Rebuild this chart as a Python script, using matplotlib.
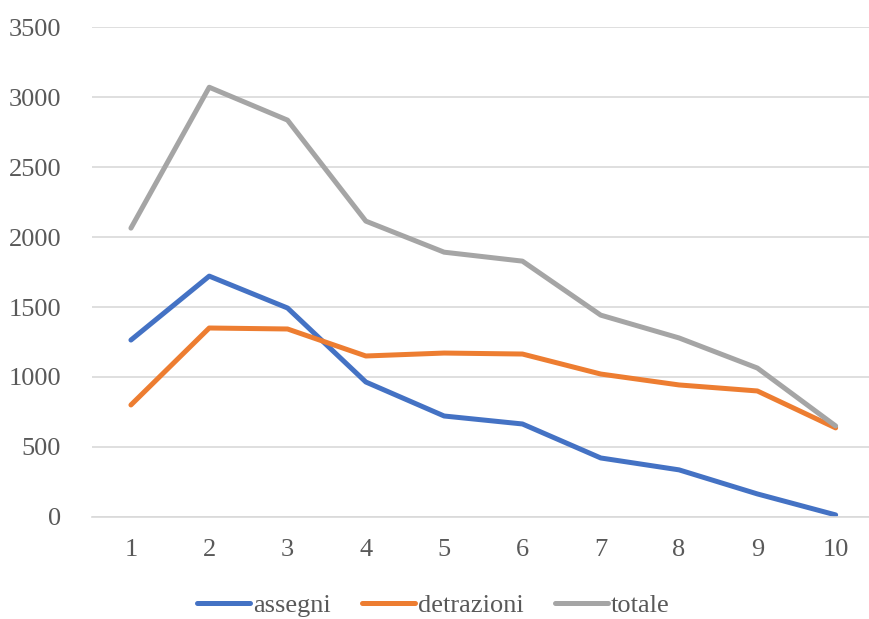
import matplotlib
matplotlib.use("Agg")
import matplotlib.pyplot as plt

categories = ["1", "2", "3", "4", "5", "6", "7", "8", "9", "10"]
assegni = [1264, 1721, 1493, 964, 721, 664, 421, 336, 164, 14]
detrazioni = [800, 1350, 1343, 1150, 1171, 1164, 1021, 943, 900, 636]
totale = [2064, 3071, 2836, 2114, 1892, 1828, 1442, 1279, 1064, 650]
yticks = [0, 500, 1000, 1500, 2000, 2500, 3000, 3500]

plt.rcParams['font.family'] = ['Liberation Serif', 'DejaVu Serif']

fig = plt.figure(figsize=(8.7, 6.19), dpi=100)
ax = fig.add_axes([0.1055, 0.165, 0.9, 0.791])

x = list(range(1, len(categories) + 1))
lw = 3.6
ax.plot(x, assegni, color="#4472C4", lw=lw, label="assegni", solid_capstyle="round")
ax.plot(x, detrazioni, color="#ED7D31", lw=lw, label="detrazioni", solid_capstyle="round")
ax.plot(x, totale, color="#A5A5A5", lw=lw, label="totale", solid_capstyle="round")

ax.set_xlim(0.5, 10.5)
ax.set_ylim(0, 3500)
ax.set_yticks(yticks)
ax.set_xticks(x)
ax.set_xticklabels(categories)
ax.yaxis.grid(True, color="#D9D9D9", lw=1.2)
ax.set_axisbelow(True)
for s in ["top", "right", "left"]:
    ax.spines[s].set_visible(False)
ax.spines["bottom"].set_color("#D9D9D9")
ax.spines["bottom"].set_linewidth(1.2)
ax.tick_params(axis="both", length=0, labelsize=19, labelcolor="#595959")
ax.tick_params(axis="x", pad=16)
ax.tick_params(axis="y", pad=22)

leg = fig.legend(loc="center", bbox_to_anchor=(0.498, 0.0226), ncol=3, frameon=False,
                 fontsize=19, handlelength=2.0, columnspacing=1.2, handletextpad=0.1,
                 borderpad=0, borderaxespad=0)
for t in leg.get_texts():
    t.set_color("#595959")

fig.savefig("out.png", dpi=100)
